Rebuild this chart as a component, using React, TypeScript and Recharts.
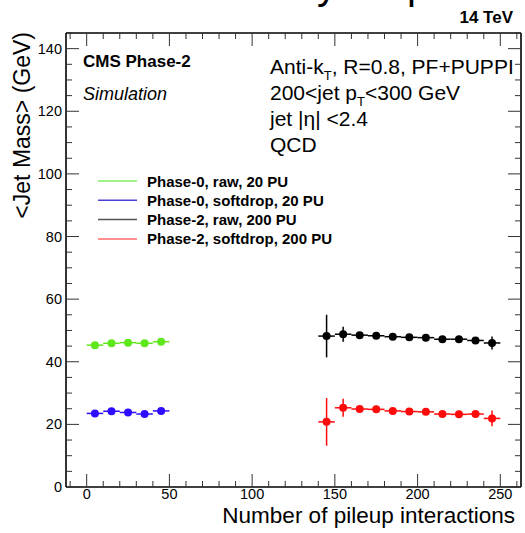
import React from 'react';
import { ComposedChart, Scatter, XAxis, YAxis, ErrorBar } from 'recharts';

const FONT = '"Liberation Sans", Arial, Helvetica, sans-serif';

// ---- data ----
const phase0Pileup = [5, 15, 25, 35, 45];
const phase0RawMass = [45.3, 45.9, 46.1, 45.9, 46.4];
const phase0RawErr = [0.3, 0.3, 0.3, 0.3, 0.3];
const phase0SoftMass = [23.5, 24.2, 23.8, 23.3, 24.3];
const phase0SoftErr = [0.3, 0.3, 0.3, 0.3, 0.3];

const phase2Pileup = [145, 155, 165, 175, 185, 195, 205, 215, 225, 235, 245];
const phase2RawMass = [48.2, 48.8, 48.5, 48.3, 48.0, 47.8, 47.7, 47.2, 47.2, 46.8, 46.0];
const phase2RawErr = [6.8, 2.4, 0.8, 0.7, 0.6, 0.6, 0.6, 0.6, 0.6, 0.8, 2.1];
const phase2SoftMass = [20.8, 25.3, 24.9, 24.8, 24.3, 24.1, 24.0, 23.3, 23.2, 23.3, 21.9];
const phase2SoftErr = [7.6, 2.9, 0.8, 0.7, 0.6, 0.6, 0.6, 0.6, 0.6, 0.8, 2.5];

const binHalfWidth = 5;

const xMinorTicks = [-10, 0, 10, 20, 30, 40, 50, 60, 70, 80, 90, 100, 110, 120, 130, 140, 150, 160, 170, 180, 190, 200, 210, 220, 230, 240, 250, 260];
const yMinorTicks = [0, 5, 10, 15, 20, 25, 30, 35, 40, 45, 50, 55, 60, 65, 70, 75, 80, 85, 90, 95, 100, 105, 110, 115, 120, 125, 130, 135, 140, 145];

const legendLabels = [
  'Phase-0, raw, 20 PU',
  'Phase-0, softdrop, 20 PU',
  'Phase-2, raw, 200 PU',
  'Phase-2, softdrop, 200 PU',
];

const GREEN = '#5ee81c';
const BLUE = '#2d0cff';
const BLACK = '#000000';
const RED = '#ff0a0a';
const seriesColors = [GREEN, BLUE, BLACK, RED];
const legendColors = ['#7ef060', '#4a40d8', '#555555', '#ff6a6a'];

const build = (xs: number[], ys: number[], es: number[]) =>
  xs.map((x, i) => ({ x, y: ys[i], ey: es[i], ex: binHalfWidth }));

const seriesData = [
  build(phase0Pileup, phase0RawMass, phase0RawErr),
  build(phase0Pileup, phase0SoftMass, phase0SoftErr),
  build(phase2Pileup, phase2RawMass, phase2RawErr),
  build(phase2Pileup, phase2SoftMass, phase2SoftErr),
];

const TICK_COLOR = '#333';
const MAJOR = 13;
const MINOR = 6;

const makeXTick = (side: 'bottom' | 'top') => (props: any) => {
  const { x, y, payload } = props;
  const v = payload.value;
  const major = v % 50 === 0;
  const len = major ? MAJOR : MINOR;
  const dir = side === 'bottom' ? -1 : 1;
  return (
    <g>
      <line x1={x} y1={y} x2={x} y2={y + dir * len} stroke={TICK_COLOR} strokeWidth={1} />
      {side === 'bottom' && major && (
        <text x={x} y={y + 12} textAnchor="middle" fontFamily={FONT} fontSize={14.5} fill="#000">
          {v}
        </text>
      )}
    </g>
  );
};

const makeYTick = (side: 'left' | 'right') => (props: any) => {
  const { x, y, payload } = props;
  const v = payload.value;
  const major = v % 20 === 0;
  const len = major ? MAJOR : MINOR;
  const dir = side === 'left' ? 1 : -1;
  return (
    <g>
      <line x1={x} y1={y} x2={x + dir * len} y2={y} stroke={TICK_COLOR} strokeWidth={1} />
      {side === 'left' && major && (
        <text x={x - 4} y={y + 5} textAnchor="end" fontFamily={FONT} fontSize={14.5} fill="#000">
          {v}
        </text>
      )}
    </g>
  );
};

const makeDot = (color: string) => (props: any) => (
  <circle cx={props.cx} cy={props.cy} r={4} fill={color} />
);

export default function App() {
  const W = 525;
  const H = 533;
  return (
    <div style={{ position: 'absolute', left: 0, top: 0, width: W, height: H, background: '#fff' }}>
      <ComposedChart width={W} height={H} margin={{ top: 3, right: 0, bottom: 0, left: 0 }}>
        <XAxis
          xAxisId="b"
          type="number"
          dataKey="x"
          orientation="bottom"
          domain={[-12.5, 262.5]}
          allowDataOverflow
          ticks={xMinorTicks}
          interval={0}
          height={46}
          tickSize={0}
          tickMargin={0}
          tickLine={false}
          axisLine={{ stroke: '#000', strokeWidth: 1.6 }}
          tick={makeXTick('bottom')}
        />
        <XAxis
          xAxisId="t"
          type="number"
          dataKey="x"
          orientation="top"
          domain={[-12.5, 262.5]}
          allowDataOverflow
          ticks={xMinorTicks}
          interval={0}
          height={30}
          tickSize={0}
          tickMargin={0}
          tickLine={false}
          axisLine={{ stroke: '#000', strokeWidth: 1.6 }}
          tick={makeXTick('top')}
        />
        <YAxis
          yAxisId="l"
          type="number"
          dataKey="y"
          orientation="left"
          domain={[0, 145]}
          allowDataOverflow
          ticks={yMinorTicks}
          interval={0}
          width={66}
          tickSize={0}
          tickMargin={0}
          tickLine={false}
          axisLine={{ stroke: '#000', strokeWidth: 1.6 }}
          tick={makeYTick('left')}
        />
        <YAxis
          yAxisId="r"
          type="number"
          dataKey="y"
          orientation="right"
          domain={[0, 145]}
          allowDataOverflow
          ticks={yMinorTicks}
          interval={0}
          width={4}
          tickSize={0}
          tickMargin={0}
          tickLine={false}
          axisLine={{ stroke: '#000', strokeWidth: 1.6 }}
          tick={makeYTick('right')}
        />
        {seriesData.map((d, i) => (
          <Scatter
            key={i}
            name={legendLabels[i]}
            data={d}
            xAxisId="b"
            yAxisId="l"
            fill={seriesColors[i]}
            isAnimationActive={false}
            shape={makeDot(seriesColors[i])}
          >
            <ErrorBar dataKey="ex" direction="x" width={0} stroke={seriesColors[i]} strokeWidth={1.5} isAnimationActive={false} />
            <ErrorBar dataKey="ey" direction="y" width={0} stroke={seriesColors[i]} strokeWidth={1.5} isAnimationActive={false} />
          </Scatter>
        ))}
      </ComposedChart>
      <svg
        width={W}
        height={H}
        style={{ position: 'absolute', left: 0, top: 0, pointerEvents: 'none' }}
        fontFamily={FONT}
      >
        {/* cut-off title (only descenders visible) */}
        <text x={317} y={-1} fontSize={40} fill="#000">y</text>
        <text x={407} y={-1} fontSize={40} fill="#000">p</text>
        <text x={513} y={23} textAnchor="end" fontSize={17} fontWeight="bold" fill="#000">14 TeV</text>

        <text x={83} y={67} fontSize={17} fontWeight="bold" fill="#000">CMS Phase-2</text>
        <text x={83} y={100} fontSize={18} fontStyle="italic" fill="#000">Simulation</text>

        <text x={270} y={74} fontSize={21} fill="#000">
          Anti-k<tspan fontSize={13} dy={6}>T</tspan><tspan dy={-6}>, R=0.8, PF+PUPPI</tspan>
        </text>
        <text x={270} y={100} fontSize={21} fill="#000">
          200&lt;jet p<tspan fontSize={13} dy={6}>T</tspan><tspan dy={-6}>&lt;300 GeV</tspan>
        </text>
        <text x={270} y={126} fontSize={21} fill="#000">jet |η| &lt;2.4</text>
        <text x={270} y={152} fontSize={21} fill="#000">QCD</text>

        {legendLabels.map((lab, i) => (
          <g key={lab}>
            <line x1={98} x2={137} y1={181 + i * 19.3} y2={181 + i * 19.3} stroke={legendColors[i]} strokeWidth={1.5} />
            <text x={147} y={186.5 + i * 19.3} fontSize={15} fontWeight="bold" fill="#000">{lab}</text>
          </g>
        ))}

        <text x={515} y={523} textAnchor="end" fontSize={22.5} fill="#000">Number of pileup interactions</text>
        <text transform="translate(30,32) rotate(-90)" textAnchor="end" fontSize={23} fill="#000">
          &lt;Jet Mass&gt; (GeV)
        </text>
      </svg>
    </div>
  );
}
